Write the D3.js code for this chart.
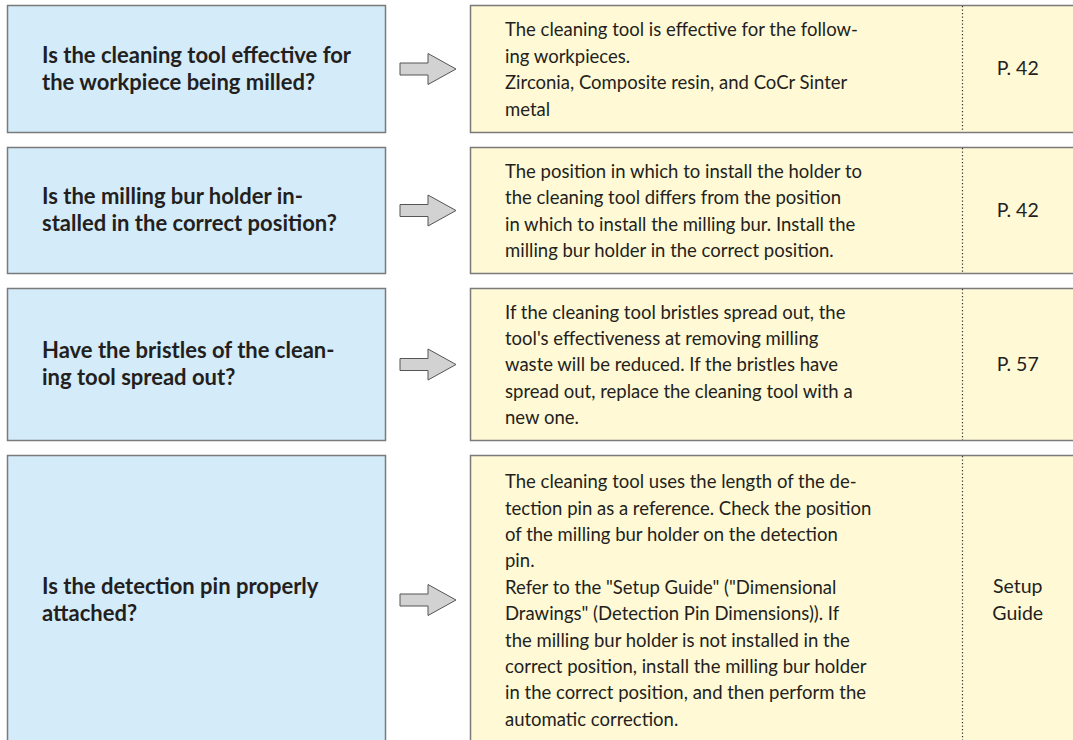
<!DOCTYPE html>
<html>
<head>
<meta charset="utf-8">
<script src="https://cdn.jsdelivr.net/npm/d3@7"></script>
<style>
  html, body { margin: 0; padding: 0; background: #ffffff; }
  svg { display: block; }
  text { font-family: Lato, "Open Sans", sans-serif; fill: #231f20; }
</style>
</head>
<body>
<svg id="chart" width="1073" height="740"></svg>
<script>
// ---- data ----
const questions = [
  ["Is the cleaning tool effective for", "the workpiece being milled?"],
  ["Is the milling bur holder in-", "stalled in the correct position?"],
  ["Have the bristles of the clean-", "ing tool spread out?"],
  ["Is the detection pin properly", "attached?"]
];
const answers = [
  ["The cleaning tool is effective for the follow-",
   "ing workpieces.",
   "Zirconia, Composite resin, and CoCr Sinter",
   "metal"],
  ["The position in which to install the holder to",
   "the cleaning tool differs from the position",
   "in which to install the milling bur. Install the",
   "milling bur holder in the correct position."],
  ["If the cleaning tool bristles spread out, the",
   "tool's effectiveness at removing milling",
   "waste will be reduced. If the bristles have",
   "spread out, replace the cleaning tool with a",
   "new one."],
  ["The cleaning tool uses the length of the de-",
   "tection pin as a reference. Check the position",
   "of the milling bur holder on the detection",
   "pin.",
   "Refer to the \"Setup Guide\" (\"Dimensional",
   "Drawings\" (Detection Pin Dimensions)). If",
   "the milling bur holder is not installed in the",
   "correct position, install the milling bur holder",
   "in the correct position, and then perform the",
   "automatic correction."]
];
const references = [["P. 42"], ["P. 42"], ["P. 57"], ["Setup", "Guide"]];
const rowTops = [5, 147, 288, 455];
const rowBottoms = [132, 273, 440, 744];

// ---- layout ----
const svg = d3.select("#chart");
const xL0 = 7.5, xL1 = 385.5, xR0 = 470.5, xSep = 962.5, xR1 = 1076;
const stroke = "#7a7a7a";

const rows = questions.map((q, i) => ({
  q, a: answers[i], r: references[i], top: rowTops[i], bottom: rowBottoms[i]
}));

const g = svg.selectAll("g.row").data(rows).join("g").attr("class", "row");

// left boxes
g.append("rect")
  .attr("x", xL0).attr("y", d => d.top + 0.5)
  .attr("width", xL1 - xL0).attr("height", d => d.bottom - d.top)
  .attr("fill", "#d4ebfa").attr("stroke", stroke).attr("stroke-width", 1.5);

// right boxes
g.append("rect")
  .attr("x", xR0).attr("y", d => d.top + 0.5)
  .attr("width", xR1 - xR0).attr("height", d => d.bottom - d.top)
  .attr("fill", "#fff9d5").attr("stroke", stroke).attr("stroke-width", 1.5);

// dotted separator
g.append("line")
  .attr("x1", xSep).attr("x2", xSep)
  .attr("y1", d => d.top + 1).attr("y2", d => d.bottom)
  .attr("stroke", "#333").attr("stroke-width", 1.2)
  .attr("stroke-dasharray", "1.2,2.3");

// arrows
const arrow = (cy) => {
  const p = [[400, cy - 6], [428, cy - 6], [428, cy - 15.5], [456, cy], [428, cy + 15.5], [428, cy + 6], [400, cy + 6]];
  return "M" + p.map(d => d.join(",")).join("L") + "Z";
};
g.append("path")
  .attr("d", d => arrow((d.top + d.bottom) / 2 + 0.5))
  .attr("fill", "#d2d2d2").attr("stroke", "#555").attr("stroke-width", 1);

// text helper
function block(sel, lines, x, cy, anchor, weight, size, lineH) {
  const n = lines.length;
  const t = sel.append("text")
    .attr("text-anchor", anchor)
    .attr("font-size", size)
    .attr("font-weight", weight);
  lines.forEach((ln, k) => {
    t.append("tspan")
      .attr("x", x)
      .attr("y", cy + (k - (n - 1) / 2) * lineH)
      .attr("dy", "0.35em")
      .text(ln);
  });
}

g.each(function(d) {
  const s = d3.select(this);
  const cy = (d.top + d.bottom) / 2;
  block(s, d.q, 42, cy, "start", 700, 22, 27);
  block(s, d.a, 505, cy + 1, "start", 400, 18.5, 26.4);
  block(s, d.r, (xSep + 1073) / 2, cy, "middle", 400, 19.5, 26.5);
});
</script>
</body>
</html>
